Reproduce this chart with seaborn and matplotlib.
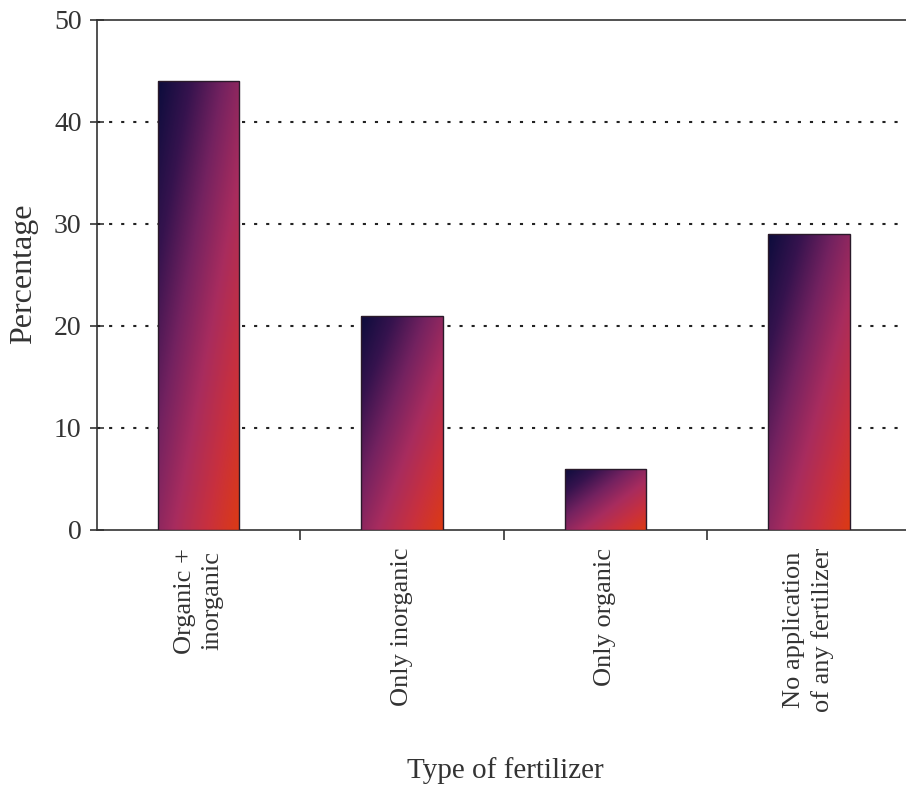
import numpy as np
import pandas as pd
import matplotlib
matplotlib.use("Agg")
import matplotlib.pyplot as plt
from matplotlib.colors import LinearSegmentedColormap
import seaborn as sns

categories = ["Organic +\ninorganic", "Only inorganic", "Only organic",
              "No application\nof any fertilizer"]
percentages = [44, 21, 6, 29]
y_ticks = [0, 10, 20, 30, 40, 50]

df = pd.DataFrame({"fertilizer": categories, "percentage": percentages})

sns.set_style("white")
plt.rcParams["font.family"] = ["Liberation Serif", "DejaVu Serif"]

fig = plt.figure(figsize=(9.06, 7.85), dpi=100)
ax = fig.add_axes([0.107, 0.325, 0.898, 0.650])

sns.barplot(data=df, x="fertilizer", y="percentage", ax=ax, width=0.4,
            color="#a02a5a", edgecolor="#2a1a2a", linewidth=1.0, zorder=3)

# diagonal gradient: navy at top-left through magenta to red-orange at bottom-right
cmap = LinearSegmentedColormap.from_list(
    "fert", ["#0c0c3c", "#36134e", "#742260", "#a82c5e", "#c8303e", "#dc3a14"])
gx, gy = np.meshgrid(np.linspace(0, 1, 120), np.linspace(0, 1, 240))
grad = 0.5 * gx + 0.5 * (1 - gy)
for patch in ax.patches:
    x0, y0 = patch.get_x(), patch.get_y()
    w, h = patch.get_width(), patch.get_height()
    im = ax.imshow(grad, cmap=cmap, origin="lower", aspect="auto",
                   extent=[x0, x0 + w, y0, y0 + h], zorder=3.5,
                   interpolation="bilinear")
    im.set_clip_path(patch)
    patch.set_facecolor("none")
    patch.set_zorder(4)

ax.set_xlim(-0.5, 3.5)
ax.set_ylim(0, 50)
ax.set_yticks(y_ticks)

for v in y_ticks[1:-1]:
    ax.axhline(v, color="#222222", lw=1.5, linestyle=(0, (1.5, 4.3)), zorder=1)

ax.spines["right"].set_visible(False)
for side in ["left", "bottom", "top"]:
    ax.spines[side].set_color("#333333")
    ax.spines[side].set_linewidth(1.2)

ax.tick_params(axis="y", direction="inout", length=10, width=1.2,
               color="#333333", labelsize=20, labelcolor="#333333", pad=6, left=True)
ax.set_xticks(range(len(categories)), labels=categories, rotation=90,
              ha="center", va="top", linespacing=1.35)
ax.tick_params(axis="x", which="major", length=0, labelsize=19,
               labelcolor="#333333", pad=13)
ax.set_xticks([0.5, 1.5, 2.5], minor=True)
ax.tick_params(axis="x", which="minor", direction="out", length=7, width=1.2,
               color="#333333", bottom=True)

ax.set_xlabel("Type of fertilizer", fontsize=21, color="#333333", labelpad=0)
ax.xaxis.set_label_coords(0.502, -0.445)
ax.set_ylabel("Percentage", fontsize=23, color="#333333", labelpad=12)
ax.yaxis.set_label_coords(-0.072, 0.502)

fig.savefig("out.png", dpi=100)
